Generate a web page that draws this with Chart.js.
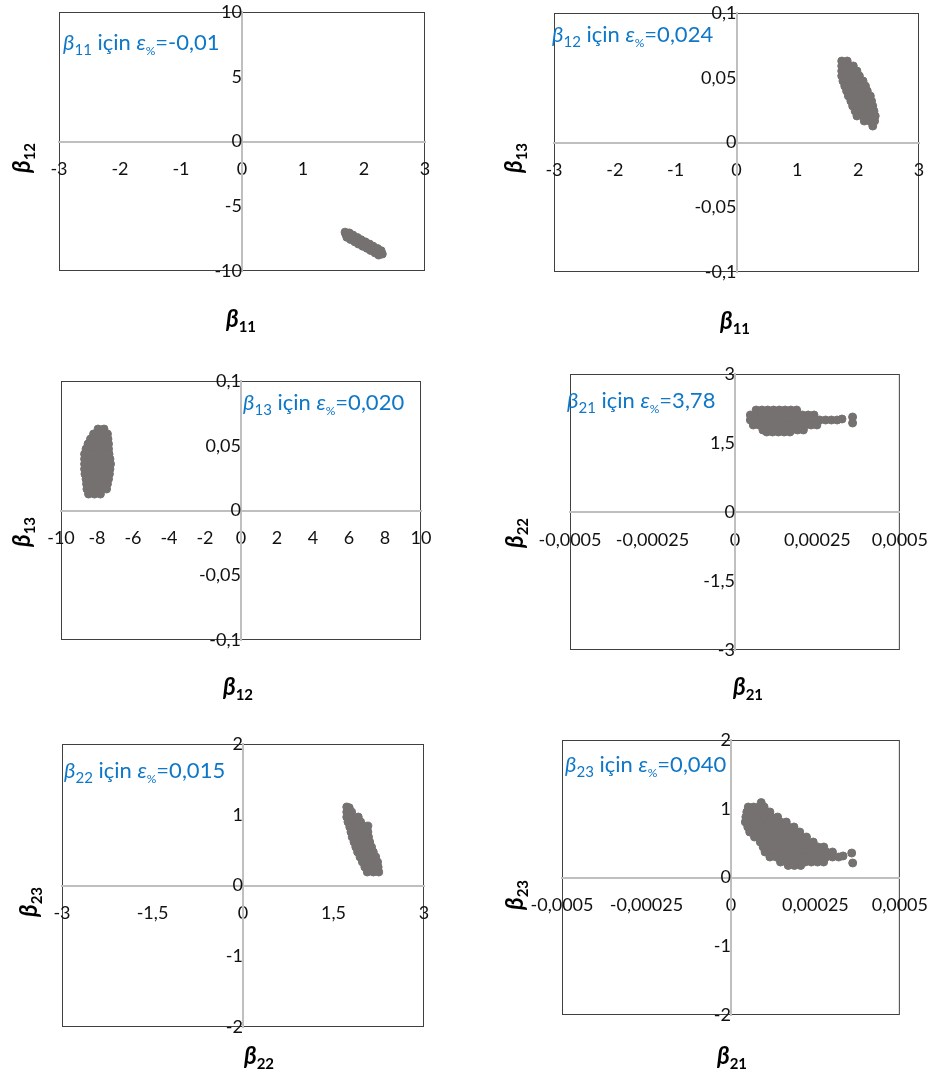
<!DOCTYPE html>
<html>
<head>
<meta charset="utf-8">
<title>Beta scatter</title>
<script src="https://cdn.jsdelivr.net/npm/chart.js@4.4.1/dist/chart.umd.min.js"></script>
<style>
  html, body { margin: 0; padding: 0; background: #fff; }
  #page { position: relative; width: 945px; height: 1077px; overflow: hidden; }
  #page canvas { position: absolute; }
</style>
</head>
<body>
<div id="page"></div>
<script>
// point clouds
const b11_b12 = [
    [1.69, -7.00],
    [1.70, -7.14], [1.77, -7.31], [1.84, -7.48], [1.90, -7.66], [1.97, -7.83],
    [2.03, -8.00], [2.10, -8.17], [2.16, -8.34], [2.23, -8.52], [2.30, -8.69],
    [1.76, -7.06], [1.82, -7.23], [1.89, -7.41], [1.95, -7.58], [2.02, -7.75],
    [2.09, -7.92], [2.15, -8.09], [2.22, -8.26], [2.28, -8.43],
    [1.72, -7.40], [1.78, -7.57], [1.85, -7.75], [1.91, -7.92], [1.98, -8.09],
    [2.05, -8.25], [2.11, -8.42], [2.18, -8.60], [2.24, -8.77]
];
const b11_b13 = [
    [1.73, 0.0629], [1.82, 0.0629],
    [1.73, 0.0591], [1.82, 0.0591], [1.92, 0.0591],
    [1.73, 0.0552], [1.81, 0.0552], [1.90, 0.0552], [1.98, 0.0552],
    [1.73, 0.0514], [1.83, 0.0514], [1.92, 0.0514], [2.02, 0.0514],
    [1.75, 0.0475], [1.83, 0.0475], [1.92, 0.0475], [2.00, 0.0475], [2.08, 0.0475],
    [1.78, 0.0436], [1.86, 0.0436], [1.95, 0.0436], [2.03, 0.0436], [2.12, 0.0436],
    [1.81, 0.0398], [1.90, 0.0398], [1.98, 0.0398], [2.07, 0.0398], [2.15, 0.0398],
    [1.84, 0.0359], [1.93, 0.0359], [2.02, 0.0359], [2.11, 0.0359], [2.20, 0.0359],
    [1.88, 0.0320], [1.96, 0.0320], [2.05, 0.0320], [2.13, 0.0320], [2.22, 0.0320],
    [1.91, 0.0282], [2.00, 0.0282], [2.08, 0.0282], [2.16, 0.0282], [2.24, 0.0282],
    [1.95, 0.0243], [2.05, 0.0243], [2.16, 0.0243], [2.26, 0.0243],
    [1.98, 0.0205], [2.08, 0.0205], [2.18, 0.0205], [2.28, 0.0205],
    [2.10, 0.0166], [2.19, 0.0166], [2.27, 0.0166],
    [2.24, 0.0127]
];
const b12_b13 = [
    [-7.94, 0.0629], [-7.61, 0.0629],
    [-8.19, 0.0591], [-7.93, 0.0591], [-7.68, 0.0591], [-7.42, 0.0591],
    [-8.36, 0.0552], [-8.04, 0.0552], [-7.71, 0.0552], [-7.39, 0.0552],
    [-8.50, 0.0514], [-8.22, 0.0514], [-7.93, 0.0514], [-7.64, 0.0514], [-7.36, 0.0514],
    [-8.61, 0.0475], [-8.30, 0.0475], [-7.98, 0.0475], [-7.67, 0.0475], [-7.36, 0.0475],
    [-8.69, 0.0436], [-8.36, 0.0436], [-8.01, 0.0436], [-7.67, 0.0436], [-7.33, 0.0436],
    [-8.69, 0.0398], [-8.34, 0.0398], [-7.98, 0.0398], [-7.63, 0.0398], [-7.28, 0.0398],
    [-8.69, 0.0359], [-8.33, 0.0359], [-7.97, 0.0359], [-7.61, 0.0359], [-7.25, 0.0359],
    [-8.69, 0.0320], [-8.34, 0.0320], [-7.98, 0.0320], [-7.63, 0.0320], [-7.28, 0.0320],
    [-8.67, 0.0282], [-8.33, 0.0282], [-7.98, 0.0282], [-7.64, 0.0282], [-7.31, 0.0282],
    [-8.61, 0.0243], [-8.30, 0.0243], [-7.98, 0.0243], [-7.67, 0.0243], [-7.36, 0.0243],
    [-8.58, 0.0205], [-8.29, 0.0205], [-8.00, 0.0205], [-7.71, 0.0205], [-7.42, 0.0205],
    [-8.56, 0.0166], [-8.19, 0.0166], [-7.83, 0.0166], [-7.47, 0.0166],
    [-8.47, 0.0127], [-8.14, 0.0127], [-7.81, 0.0127]
];
const b21_b22 = [
    [0.0000643, 2.217], [0.0000819, 2.217], [0.0000994, 2.217], [0.0001170, 2.217],
    [0.0001345, 2.217], [0.0001520, 2.217], [0.0001696, 2.217], [0.0001871, 2.217],
    [0.0000468, 2.109], [0.0000643, 2.109], [0.0000819, 2.109], [0.0000994, 2.109],
    [0.0001170, 2.109], [0.0001345, 2.109], [0.0001520, 2.109], [0.0001696, 2.109],
    [0.0001871, 2.109], [0.0002047, 2.109], [0.0002222, 2.109], [0.0002398, 2.109],
    [0.0000468, 2.000], [0.0000643, 2.000], [0.0000819, 2.000], [0.0000994, 2.000],
    [0.0001170, 2.000], [0.0001345, 2.000], [0.0001520, 2.000], [0.0001696, 2.000],
    [0.0001871, 2.000], [0.0002047, 2.000], [0.0002222, 2.000], [0.0002398, 2.000],
    [0.0002573, 2.000], [0.0002749, 2.000], [0.0002924, 2.000], [0.0003099, 2.000],
    [0.0000556, 1.891], [0.0000731, 1.891], [0.0000906, 1.891], [0.0001082, 1.891],
    [0.0001257, 1.891], [0.0001433, 1.891], [0.0001608, 1.891], [0.0001784, 1.891],
    [0.0001959, 1.891], [0.0002135, 1.891], [0.0002310, 1.891], [0.0002485, 1.891],
    [0.0000848, 1.783], [0.0001023, 1.783], [0.0001199, 1.783], [0.0001374, 1.783],
    [0.0001550, 1.783], [0.0001725, 1.783], [0.0001901, 1.783], [0.0002076, 1.783],
    [0.0000965, 1.739], [0.0001140, 1.739], [0.0001316, 1.739], [0.0001491, 1.739], [0.0001667, 1.739],
    [0.0003246, 2.022], [0.0003567, 2.065], [0.0003567, 1.935]
];
const b22_b23 = [
    [1.72, 1.110], [1.76, 1.100],
    [1.72, 1.039], [1.80, 1.039],
    [1.72, 0.968], [1.81, 0.968], [1.91, 0.968],
    [1.74, 0.898], [1.85, 0.898], [1.95, 0.898],
    [1.77, 0.827], [1.85, 0.827], [1.94, 0.827], [2.03, 0.827], [2.07, 0.840],
    [1.79, 0.756], [1.88, 0.756], [1.98, 0.756], [2.07, 0.756],
    [1.81, 0.686], [1.90, 0.686], [1.99, 0.686], [2.08, 0.686],
    [1.84, 0.615], [1.93, 0.615], [2.02, 0.615], [2.10, 0.615],
    [1.87, 0.544], [1.96, 0.544], [2.05, 0.544], [2.13, 0.544],
    [1.90, 0.473], [1.99, 0.473], [2.08, 0.473], [2.16, 0.473],
    [1.94, 0.403], [2.03, 0.403], [2.11, 0.403], [2.20, 0.403],
    [1.98, 0.332], [2.06, 0.332], [2.15, 0.332], [2.23, 0.332],
    [2.02, 0.261], [2.09, 0.261], [2.17, 0.261], [2.24, 0.261],
    [2.06, 0.191], [2.16, 0.191], [2.25, 0.191]
];
const b21_b23 = [
    [0.0000897, 1.090],
    [0.0000513, 1.025], [0.0000670, 1.025], [0.0000826, 1.025], [0.0000983, 1.025],
    [0.0000470, 0.953], [0.0000641, 0.953], [0.0000812, 0.953], [0.0000983, 0.953], [0.0001154, 0.953],
    [0.0000442, 0.880], [0.0000630, 0.880], [0.0000818, 0.880], [0.0001006, 0.880], [0.0001194, 0.880],
    [0.0001382, 0.880],
    [0.0000427, 0.807], [0.0000601, 0.807], [0.0000775, 0.807], [0.0000949, 0.807], [0.0001123, 0.807],
    [0.0001296, 0.807], [0.0001467, 0.807], [0.0001638, 0.807],
    [0.0000499, 0.735], [0.0000670, 0.735], [0.0000840, 0.735], [0.0001011, 0.735], [0.0001182, 0.735],
    [0.0001353, 0.735], [0.0001524, 0.735], [0.0001695, 0.735], [0.0001866, 0.735],
    [0.0000556, 0.662], [0.0000741, 0.662], [0.0000926, 0.662], [0.0001111, 0.662], [0.0001296, 0.662],
    [0.0001481, 0.662], [0.0001667, 0.662], [0.0001852, 0.662], [0.0002037, 0.662],
    [0.0000698, 0.589], [0.0000869, 0.589], [0.0001040, 0.589], [0.0001211, 0.589], [0.0001382, 0.589],
    [0.0001553, 0.589], [0.0001724, 0.589], [0.0001895, 0.589], [0.0002066, 0.589], [0.0002236, 0.589],
    [0.0000869, 0.516], [0.0001040, 0.516], [0.0001211, 0.516], [0.0001382, 0.516], [0.0001553, 0.516],
    [0.0001752, 0.516], [0.0001923, 0.516], [0.0002094, 0.516], [0.0002265, 0.516], [0.0002436, 0.516],
    [0.0000954, 0.444], [0.0001125, 0.444], [0.0001325, 0.444], [0.0001496, 0.444], [0.0001667, 0.444],
    [0.0001866, 0.444], [0.0002037, 0.444], [0.0002208, 0.444], [0.0002379, 0.444], [0.0002578, 0.444],
    [0.0002749, 0.444],
    [0.0001011, 0.371], [0.0001194, 0.371], [0.0001373, 0.371], [0.0001556, 0.371], [0.0001738, 0.371],
    [0.0001920, 0.371], [0.0002103, 0.371], [0.0002282, 0.371], [0.0002464, 0.371], [0.0002647, 0.371],
    [0.0002826, 0.371], [0.0003006, 0.371],
    [0.0001154, 0.298], [0.0001339, 0.298], [0.0001524, 0.298], [0.0001709, 0.298], [0.0001895, 0.298],
    [0.0002080, 0.298], [0.0002265, 0.298], [0.0002450, 0.298], [0.0002635, 0.298], [0.0002821, 0.298],
    [0.0003006, 0.298], [0.0003191, 0.298],
    [0.0001467, 0.225], [0.0001650, 0.225], [0.0001832, 0.225], [0.0002014, 0.225], [0.0002197, 0.225],
    [0.0002379, 0.225], [0.0002561, 0.225], [0.0002744, 0.225],
    [0.0001695, 0.175], [0.0001880, 0.175], [0.0002066, 0.175],
    [0.0003319, 0.313], [0.0003575, 0.356], [0.0003604, 0.211]
];

// tick values and their labels
const ticksPm3 = [-3, -2, -1, 0, 1, 2, 3];
const labelsPm3 = ['-3', '-2', '-1', '0', '1', '2', '3'];
const ticksPm10by5 = [-10, -5, 0, 5, 10];
const labelsPm10by5 = ['-10', '-5', '0', '5', '10'];
const ticksPm10by2 = [-10, -8, -6, -4, -2, 0, 2, 4, 6, 8, 10];
const labelsPm10by2 = ['-10', '-8', '-6', '-4', '-2', '0', '2', '4', '6', '8', '10'];
const ticksPm01 = [-0.1, -0.05, 0, 0.05, 0.1];
const labelsPm01 = ['-0,1', '-0,05', '0', '0,05', '0,1'];
const ticksPm00005 = [-0.0005, -0.00025, 0, 0.00025, 0.0005];
const labelsPm00005 = ['-0,0005', '-0,00025', '0', '0,00025', '0,0005'];
const ticksPm3by15 = [-3, -1.5, 0, 1.5, 3];
const labelsPm3by15 = ['-3', '-1,5', '0', '1,5', '3'];
const ticksPm2 = [-2, -1, 0, 1, 2];
const labelsPm2 = ['-2', '-1', '0', '1', '2'];

// subscripts of the axis names and the error notes
const xNames = ['11', '11', '12', '21', '22', '21'];
const yNames = ['12', '13', '13', '22', '23', '23'];
const noteParams = ['11', '12', '13', '21', '22', '23'];
const noteValues = ['-0,01', '0,024', '0,020', '3,78', '0,015', '0,040'];

const panels = [
    { data: b11_b12, xt: ticksPm3, xl: labelsPm3, yt: ticksPm10by5, yl: labelsPm10by5 },
    { data: b11_b13, xt: ticksPm3, xl: labelsPm3, yt: ticksPm01, yl: labelsPm01 },
    { data: b12_b13, xt: ticksPm10by2, xl: labelsPm10by2, yt: ticksPm01, yl: labelsPm01 },
    { data: b21_b22, xt: ticksPm00005, xl: labelsPm00005, yt: ticksPm3by15, yl: labelsPm3by15 },
    { data: b22_b23, xt: ticksPm3by15, xl: labelsPm3by15, yt: ticksPm2, yl: labelsPm2 },
    { data: b21_b23, xt: ticksPm00005, xl: labelsPm00005, yt: ticksPm2, yl: labelsPm2 }
];

// page geometry: canvas box, plot box, note start, title anchors
const layout = [
    { box: [0, -40, 472, 385], plot: [59, 12, 425, 271], note: [63, 50], xt: [241, 327], yt: [30, 158] },
    { box: [472, -40, 473, 385], plot: [554, 13, 919, 272], note: [552, 42], xt: [735, 329], yt: [522, 158] },
    { box: [0, 330, 472, 375], plot: [61, 381, 421, 640], note: [243, 410], xt: [238, 695], yt: [30, 532] },
    { box: [472, 330, 473, 375], plot: [570, 374, 912, 650], note: [567, 408], xt: [748, 695], yt: [523, 533] },
    { box: [0, 700, 472, 377], plot: [62, 744, 424, 1027], note: [64, 778], xt: [259, 1064], yt: [37, 902] },
    { box: [472, 700, 473, 377], plot: [562, 740, 913, 1015], note: [565, 772], xt: [732, 1064], yt: [523, 895] }
];

const FAMILY = "Lato, 'Noto Sans', 'DejaVu Sans', sans-serif";
const NOTE_BLUE = '#0f77c7';
const DOT_GREY = '#767171';

function drawRuns(ctx, runs, x, y, align) {
    let total = 0;
    runs.forEach(r => {
        ctx.font = r.font;
        r.w = ctx.measureText(r.text).width;
        total += r.w;
    });
    let cx = align === 'center' ? x - total / 2 : x;
    runs.forEach(r => {
        ctx.font = r.font;
        ctx.fillText(r.text, cx, y + (r.dy || 0));
        cx += r.w;
    });
}

function titleRuns(sub) {
    return [
        { text: 'β', font: 'bold italic 24px ' + FAMILY },
        { text: sub, font: 'bold 15px ' + FAMILY, dy: 5 }
    ];
}

const panelDecor = {
    id: 'panelDecor',
    beforeDraw(chart) {
        const a = chart.chartArea;
        const ctx = chart.ctx;
        ctx.save();
        ctx.strokeStyle = '#404040';
        ctx.lineWidth = 1;
        ctx.strokeRect(a.left + 0.5, a.top + 0.5, a.right - a.left - 1, a.bottom - a.top - 1);
        ctx.restore();
    },
    afterDraw(chart, args, opts) {
        const i = opts.index;
        const L = layout[i];
        const ox = L.box[0], oy = L.box[1];
        const ctx = chart.ctx;
        ctx.save();
        ctx.textAlign = 'left';
        ctx.textBaseline = 'alphabetic';

        // blue note
        ctx.fillStyle = NOTE_BLUE;
        drawRuns(ctx, [
            { text: 'β', font: 'italic 22px ' + FAMILY },
            { text: noteParams[i], font: '15px ' + FAMILY, dy: 5 },
            { text: ' için ', font: '22px ' + FAMILY },
            { text: 'ε', font: 'italic 22px ' + FAMILY },
            { text: '%', font: '12px ' + FAMILY, dy: 5 },
            { text: '=' + noteValues[i], font: '22px ' + FAMILY }
        ], L.note[0] - ox, L.note[1] - oy, 'left');

        // axis titles
        ctx.fillStyle = '#000';
        drawRuns(ctx, titleRuns(xNames[i]), L.xt[0] - ox, L.xt[1] - oy, 'center');
        ctx.translate(L.yt[0] - ox, L.yt[1] - oy);
        ctx.rotate(-Math.PI / 2);
        drawRuns(ctx, titleRuns(yNames[i]), 0, 0, 'center');
        ctx.restore();
    }
};

const page = document.getElementById('page');

panels.forEach((p, i) => {
    const L = layout[i];
    const canvas = document.createElement('canvas');
    canvas.width = L.box[2];
    canvas.height = L.box[3];
    canvas.style.left = L.box[0] + 'px';
    canvas.style.top = L.box[1] + 'px';
    page.appendChild(canvas);

    const pad = {
        left: L.plot[0] - L.box[0],
        top: L.plot[1] - L.box[1],
        right: L.box[0] + L.box[2] - L.plot[2],
        bottom: L.box[1] + L.box[3] - L.plot[3]
    };

    const tickFont = { family: FAMILY, size: 18 };

    new Chart(canvas, {
        type: 'scatter',
        data: {
            datasets: [{
                data: p.data.map(d => ({ x: d[0], y: d[1] })),
                backgroundColor: DOT_GREY,
                borderColor: DOT_GREY,
                pointRadius: 4,
                pointBorderWidth: 1,
                pointHoverRadius: 4
            }]
        },
        options: {
            responsive: false,
            animation: false,
            events: [],
            layout: { padding: pad },
            plugins: {
                legend: { display: false },
                tooltip: { enabled: false },
                panelDecor: { index: i }
            },
            scales: {
                x: {
                    type: 'linear',
                    min: p.xt[0],
                    max: p.xt[p.xt.length - 1],
                    position: { y: 0 },
                    afterBuildTicks: s => { s.ticks = p.xt.map(v => ({ value: v })); },
                    ticks: {
                        callback: (v, k) => p.xl[k],
                        autoSkip: false,
                        maxRotation: 0,
                        padding: 17,
                        color: '#111',
                        font: tickFont
                    },
                    grid: { display: false, drawTicks: false },
                    border: { display: true, color: '#bfbfbf', width: 2 }
                },
                y: {
                    type: 'linear',
                    min: p.yt[0],
                    max: p.yt[p.yt.length - 1],
                    position: { x: 0 },
                    afterBuildTicks: s => { s.ticks = p.yt.map(v => ({ value: v })); },
                    ticks: {
                        callback: (v, k) => p.yl[k],
                        autoSkip: false,
                        padding: 20,
                        color: '#111',
                        font: tickFont
                    },
                    grid: { display: false, drawTicks: false },
                    border: { display: true, color: '#bfbfbf', width: 2 }
                }
            }
        },
        plugins: [panelDecor]
    });
});
</script>
</body>
</html>
